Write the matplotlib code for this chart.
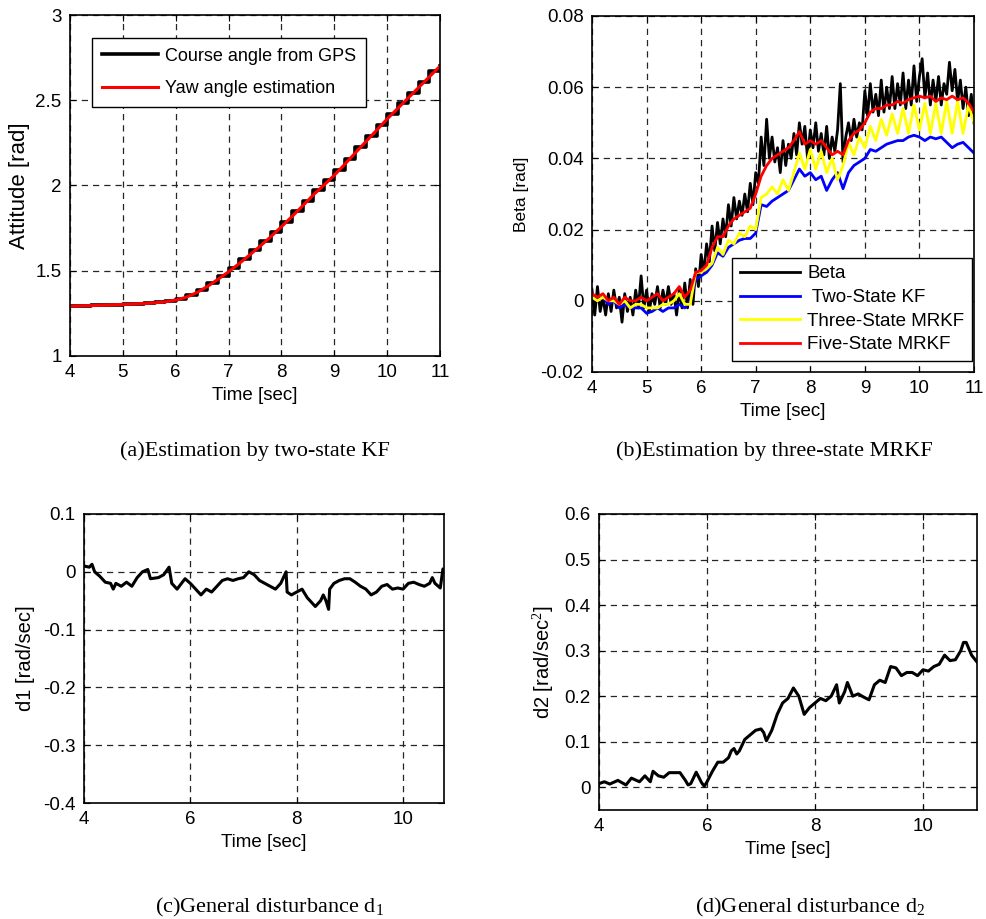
import numpy as np
import matplotlib
matplotlib.use("Agg")
import matplotlib.pyplot as plt

plt.rcParams['font.family'] = ['Liberation Sans', 'DejaVu Sans']
plt.rcParams['mathtext.fontset'] = 'custom'
plt.rcParams['mathtext.rm'] = 'Liberation Sans'
plt.rcParams['mathtext.it'] = 'Liberation Sans'

# ---- (a) attitude ----
t_a = [4.0, 4.2, 4.4, 4.6, 4.8, 5.0, 5.2, 5.4, 5.6, 5.8, 6.0, 6.2, 6.4, 6.6, 6.8, 7.0, 7.2, 7.4,
       7.6, 7.8, 8.0, 8.2, 8.4, 8.6, 8.8, 9.0, 9.2, 9.4, 9.6, 9.8, 10.0, 10.2, 10.4, 10.6, 10.8, 11.0]
yaw_est = [1.292, 1.294, 1.296, 1.298, 1.300, 1.302, 1.305, 1.308, 1.312, 1.318, 1.328, 1.345,
           1.372, 1.408, 1.450, 1.494, 1.542, 1.593, 1.645, 1.700, 1.758, 1.818, 1.880, 1.944,
           2.001, 2.060, 2.125, 2.192, 2.258, 2.324, 2.390, 2.452, 2.514, 2.576, 2.638, 2.700]
gps_course = [1.293, 1.295, 1.297, 1.299, 1.301, 1.304, 1.307, 1.310, 1.315, 1.323, 1.336, 1.358,
              1.390, 1.429, 1.472, 1.518, 1.568, 1.619, 1.672, 1.729, 1.788, 1.849, 1.912, 1.972,
              2.030, 2.092, 2.158, 2.225, 2.291, 2.357, 2.421, 2.483, 2.545, 2.607, 2.669, 2.700]

# ---- (b) side slip ----
t_beta = [4.0 + 0.05 * i for i in range(141)]
beta = [0.003, -0.004, 0.004, -0.003, 0.001, -0.004, 0.002, -0.003, 0.003, -0.002,
        0.001, -0.006, 0.002, -0.003, 0.001, -0.004, 0.003, -0.002, 0.007, -0.002,
        0.003, -0.003, 0.002, -0.001, 0.004, -0.002, 0.003, -0.001, 0.004, -0.001,
        0.002, -0.004, 0.003, -0.002, 0.005, -0.002, 0.006, -0.001, 0.009, 0.004,
        0.013, 0.008, 0.016, 0.011, 0.021, 0.014, 0.022, 0.016, 0.023, 0.018,
        0.027, 0.021, 0.029, 0.023, 0.028, 0.024, 0.030, 0.025, 0.033, 0.027,
        0.036, 0.033, 0.046, 0.038, 0.051, 0.040, 0.046, 0.039, 0.043, 0.036,
        0.045, 0.038, 0.044, 0.040, 0.047, 0.041, 0.050, 0.044, 0.049, 0.040,
        0.048, 0.043, 0.050, 0.042, 0.047, 0.041, 0.049, 0.040, 0.046, 0.042,
        0.048, 0.061, 0.039, 0.046, 0.050, 0.045, 0.051, 0.046, 0.050, 0.048,
        0.059, 0.052, 0.061, 0.053, 0.058, 0.052, 0.062, 0.053, 0.060, 0.054,
        0.063, 0.054, 0.061, 0.055, 0.064, 0.054, 0.062, 0.055, 0.066, 0.056,
        0.063, 0.068, 0.057, 0.064, 0.055, 0.062, 0.056, 0.063, 0.055, 0.061,
        0.058, 0.067, 0.059, 0.065, 0.056, 0.062, 0.054, 0.060, 0.052, 0.058,
        0.050]
t_est = [4.0 + 0.1 * i for i in range(71)]
two_state = [0.001, 0.000, 0.001, -0.001, 0.000, -0.002, -0.001, -0.002, -0.002, -0.002,
             -0.0035, -0.003, -0.002, -0.003, -0.002, -0.002, -0.001, -0.002, 0.000, 0.006,
             0.007, 0.008, 0.010, 0.0135, 0.0125, 0.015, 0.016, 0.017, 0.0175, 0.0175,
             0.019, 0.027, 0.0265, 0.028, 0.029, 0.030, 0.031, 0.034, 0.037, 0.035,
             0.036, 0.034, 0.035, 0.031, 0.034, 0.036, 0.0315, 0.036, 0.038, 0.039,
             0.040, 0.0425, 0.042, 0.043, 0.044, 0.0445, 0.045, 0.045, 0.046, 0.0465,
             0.046, 0.045, 0.046, 0.0455, 0.046, 0.0445, 0.043, 0.044, 0.0445, 0.043,
             0.0415]
three_state = [0.001, 0.000, 0.001, 0.000, 0.000, -0.001, 0.000, -0.002, -0.001, -0.001,
               -0.002, -0.002, -0.002, -0.001, -0.001, 0.000, 0.002, -0.001, -0.001, 0.008,
               0.008, 0.009, 0.0105, 0.015, 0.013, 0.017, 0.016, 0.019, 0.018, 0.021,
               0.020, 0.029, 0.030, 0.032, 0.030, 0.034, 0.031, 0.036, 0.0415, 0.037,
               0.0425, 0.037, 0.042, 0.036, 0.040, 0.034, 0.038, 0.0445, 0.041, 0.046,
               0.043, 0.049, 0.045, 0.051, 0.0465, 0.0525, 0.047, 0.054, 0.047, 0.055,
               0.048, 0.0555, 0.047, 0.0555, 0.047, 0.056, 0.047, 0.056, 0.047, 0.055,
               0.050]
five_state = [0.002, 0.001, 0.002, 0.000, 0.001, -0.001, 0.001, 0.000, 0.000, 0.001,
              0.000, 0.001, 0.002, 0.000, 0.001, 0.002, 0.004, 0.001, 0.003, 0.008,
              0.0085, 0.010, 0.015, 0.018, 0.018, 0.021, 0.023, 0.024, 0.025, 0.026,
              0.030, 0.035, 0.038, 0.040, 0.041, 0.042, 0.043, 0.045, 0.0475, 0.044,
              0.045, 0.044, 0.045, 0.043, 0.041, 0.042, 0.041, 0.045, 0.047, 0.048,
              0.050, 0.053, 0.054, 0.054, 0.055, 0.055, 0.056, 0.0555, 0.0565, 0.057,
              0.0575, 0.057, 0.0575, 0.056, 0.057, 0.0565, 0.0575, 0.0565, 0.057, 0.0555,
              0.053]

# ---- (c) disturbance d1 ----
t_d1 = [4.0, 4.1, 4.15, 4.2, 4.3, 4.4, 4.5, 4.55, 4.6, 4.7, 4.8, 4.9, 5.0, 5.1, 5.2, 5.25, 5.4,
        5.5, 5.6, 5.65, 5.75, 5.9, 6.0, 6.1, 6.2, 6.3, 6.4, 6.5, 6.6, 6.7, 6.8, 6.9, 7.0, 7.1,
        7.2, 7.3, 7.4, 7.5, 7.6, 7.7, 7.8, 7.82, 7.9, 8.0, 8.1, 8.2, 8.3, 8.35, 8.45, 8.5, 8.55,
        8.6, 8.62, 8.7, 8.8, 8.9, 9.0, 9.1, 9.2, 9.3, 9.4, 9.5, 9.6, 9.7, 9.8, 9.9, 10.0, 10.1,
        10.2, 10.3, 10.4, 10.5, 10.55, 10.6, 10.7, 10.75, 10.8, 10.9, 11.0]
d1 = [0.010, 0.008, 0.013, 0.000, -0.008, -0.018, -0.020, -0.030, -0.020, -0.025, -0.018,
      -0.025, -0.010, 0.000, 0.004, -0.012, -0.010, -0.005, 0.008, -0.020, -0.030, -0.012,
      -0.020, -0.030, -0.040, -0.030, -0.035, -0.025, -0.015, -0.012, -0.015, -0.012, -0.010,
      0.000, -0.005, -0.015, -0.020, -0.025, -0.030, -0.020, 0.000, -0.035, -0.040, -0.035,
      -0.030, -0.045, -0.055, -0.060, -0.050, -0.040, -0.050, -0.065, -0.030, -0.020, -0.015,
      -0.012, -0.012, -0.018, -0.025, -0.030, -0.040, -0.035, -0.025, -0.022, -0.030, -0.028,
      -0.030, -0.020, -0.018, -0.022, -0.025, -0.020, -0.010, -0.020, -0.028, 0.005, 0.000,
      0.002, 0.008]

# ---- (d) disturbance d2 ----
t_d2 = [4.0, 4.1, 4.2, 4.35, 4.5, 4.6, 4.75, 4.85, 4.95, 5.0, 5.1, 5.2, 5.3, 5.5, 5.6, 5.65,
        5.7, 5.8, 5.9, 5.95, 6.0, 6.1, 6.2, 6.3, 6.4, 6.45, 6.5, 6.55, 6.6, 6.7, 6.8, 6.9, 7.0,
        7.05, 7.1, 7.2, 7.3, 7.4, 7.5, 7.6, 7.7, 7.8, 7.9, 8.0, 8.1, 8.2, 8.3, 8.4, 8.45, 8.55,
        8.6, 8.7, 8.8, 8.9, 9.0, 9.1, 9.2, 9.3, 9.4, 9.5, 9.6, 9.7, 9.8, 9.9, 10.0, 10.1, 10.2,
        10.3, 10.4, 10.5, 10.6, 10.7, 10.75, 10.8, 10.9, 11.0]
d2 = [0.008, 0.012, 0.007, 0.015, 0.005, 0.020, 0.012, 0.025, 0.012, 0.035, 0.025, 0.022,
      0.032, 0.032, 0.015, 0.005, 0.008, 0.033, 0.010, 0.002, 0.012, 0.035, 0.055, 0.055,
      0.065, 0.080, 0.085, 0.073, 0.080, 0.105, 0.115, 0.125, 0.128, 0.120, 0.102, 0.125,
      0.160, 0.185, 0.195, 0.218, 0.200, 0.160, 0.175, 0.185, 0.195, 0.190, 0.200, 0.225,
      0.185, 0.210, 0.230, 0.200, 0.205, 0.198, 0.192, 0.225, 0.235, 0.230, 0.265, 0.262,
      0.245, 0.252, 0.252, 0.245, 0.258, 0.255, 0.265, 0.270, 0.290, 0.278, 0.280, 0.300,
      0.318, 0.318, 0.290, 0.275]

W, H = 986, 919
fig = plt.figure(figsize=(W / 100, H / 100), dpi=100)


def box(l, t, r, b):
    return [l / W, 1 - b / H, (r - l) / W, (b - t) / H]


def style(ax):
    ax.grid(True, color='0.15', linestyle=(0, (5, 4)), linewidth=0.9)
    ax.tick_params(direction='in', top=True, right=True, labelsize=13.5, length=4, pad=6)
    for s in ax.spines.values():
        s.set_linewidth(1.2)
    ax.set_xlabel('Time [sec]', fontsize=13.5, labelpad=4)


ax1 = fig.add_axes(box(70, 15, 440, 356))
ax1.step(t_a, gps_course, where='post', color='black', lw=2.6, label='Course angle from GPS')
ax1.plot(t_a, yaw_est, color='red', lw=2.2, label='Yaw angle estimation')
ax1.set_xlim(4, 11)
ax1.set_ylim(1, 3)
ax1.set_xticks(range(4, 12))
ax1.set_yticks([1, 1.5, 2, 2.5, 3])
ax1.set_yticklabels(['1', '1.5', '2', '2.5', '3'])
style(ax1)
ax1.set_ylabel('Attitude [rad]', fontsize=16, labelpad=4)
ax1.legend(loc='upper left', bbox_to_anchor=(0.059, 0.933), borderaxespad=0, fontsize=13,
           fancybox=False, edgecolor='black', framealpha=1, handlelength=3.1,
           handletextpad=0.4, borderpad=0.55, labelspacing=0.85)

ax2 = fig.add_axes(box(592, 16, 974, 372))
ax2.plot(t_beta, beta, color='black', lw=2, label='Beta')
ax2.plot(t_est, two_state, color='blue', lw=2, label=' Two-State KF')
ax2.plot(t_est, three_state, color='yellow', lw=2, label='Three-State MRKF')
ax2.plot(t_est, five_state, color='red', lw=2, label='Five-State MRKF')
ax2.set_xlim(4, 11)
ax2.set_ylim(-0.02, 0.08)
ax2.set_xticks(range(4, 12))
ax2.set_yticks([-0.02, 0, 0.02, 0.04, 0.06, 0.08])
ax2.set_yticklabels(['-0.02', '0', '0.02', '0.04', '0.06', '0.08'])
style(ax2)
ax2.set_ylabel('Beta [rad]', fontsize=12.5, labelpad=8)
ax2.legend(loc='lower right', bbox_to_anchor=(0.995, 0.031), borderaxespad=0, fontsize=13.5,
           fancybox=False, edgecolor='black', framealpha=1, handlelength=3.2,
           handletextpad=0.4, borderpad=0.4, labelspacing=0.35)

ax3 = fig.add_axes(box(84, 514, 444, 803))
ax3.plot(t_d1, d1, color='black', lw=2.2)
ax3.set_xlim(4, 10.77)
ax3.set_ylim(-0.4, 0.1)
ax3.set_xticks([4, 6, 8, 10])
ax3.set_yticks([-0.4, -0.3, -0.2, -0.1, 0, 0.1])
ax3.set_yticklabels(['-0.4', '-0.3', '-0.2', '-0.1', '0', '0.1'])
style(ax3)
ax3.set_ylabel('d1 [rad/sec]', fontsize=14.5, labelpad=6)

ax4 = fig.add_axes(box(599, 514, 977, 810))
ax4.plot(t_d2, d2, color='black', lw=2.2)
ax4.set_xlim(4, 11)
ax4.set_ylim(-0.05, 0.6)
ax4.set_xticks([4, 6, 8, 10])
ax4.set_yticks([0, 0.1, 0.2, 0.3, 0.4, 0.5, 0.6])
ax4.set_yticklabels(['0', '0.1', '0.2', '0.3', '0.4', '0.5', '0.6'])
style(ax4)
ax4.set_ylabel('d2 [rad/sec$^2$]', fontsize=14.5, labelpad=6)

cap = dict(family=['Liberation Serif', 'DejaVu Serif'], fontsize=16, ha='center', va='center')
plt.rcParams['mathtext.rm'] = 'Liberation Serif'
fig.text(255 / W, 1 - 451 / H, '(a)Estimation by two-state KF', **cap)
fig.text(774 / W, 1 - 451 / H, '(b)Estimation by three-state MRKF', **cap)
fig.text(270 / W, 1 - 907 / H, r'(c)General disturbance d$_\mathrm{1}$', **cap)
fig.text(810 / W, 1 - 907 / H, r'(d)General disturbance d$_\mathrm{2}$', **cap)

fig.savefig('out.png', dpi=100)
